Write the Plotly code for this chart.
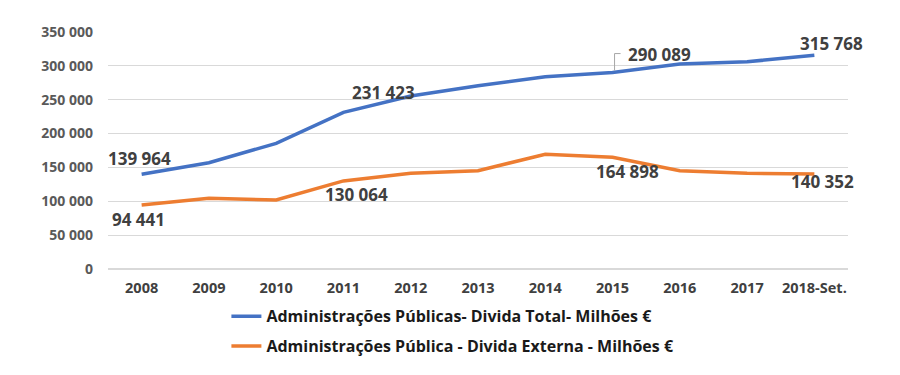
import plotly.graph_objects as go

years = ["2008", "2009", "2010", "2011", "2012", "2013", "2014", "2015", "2016", "2017", "2018-Set."]
divida_total = [139964, 157000, 185600, 231423, 255500, 270500, 284000, 290089, 302700, 306000, 315768]
divida_externa = [94441, 104400, 101900, 130064, 141300, 145200, 169400, 164898, 145200, 141300, 140352]
name_total = "Administrações Públicas- Divida Total- Milhões €"
name_externa = "Administrações Pública - Divida Externa - Milhões €"

BLUE = "#4472C4"
ORANGE = "#ED7D31"
FONT = "Open Sans"

fig = go.Figure()
fig.add_trace(go.Scatter(x=years, y=divida_total, mode="lines", name=name_total,
                         legendgroup="a", line=dict(color=BLUE, width=3.5)))
fig.add_trace(go.Scatter(x=years, y=divida_externa, mode="lines", name=name_externa,
                         legendgroup="b", line=dict(color=ORANGE, width=3.5)))

def fmt(v):
    return f"{v:,}".replace(",", " ")

# (series, index, xshift, yshift)
labels = [
    (divida_total, 0, -2, 16),
    (divida_externa, 0, -3, -14),
    (divida_total, 3, 40, 20),
    (divida_externa, 3, 13, -14),
    (divida_total, 7, 47, 18),
    (divida_externa, 7, 15, -14),
    (divida_total, 10, 17, 12),
    (divida_externa, 10, 8, -8),
]
for series, i, xs, ys in labels:
    fig.add_annotation(x=i, y=series[i], text=fmt(series[i]), showarrow=False,
                       xshift=xs, yshift=ys,
                       font=dict(family=FONT, size=17, color="#404040", weight="bold"))

# leader line for the 2015 total label (elbow)
fig.add_shape(type="path", xref="x", yref="y", xsizemode="pixel", ysizemode="pixel",
              xanchor=7, yanchor=divida_total[7], path="M 2,2 L 2,19 L 8,19",
              line=dict(color="#a6a6a6", width=1))

fig.update_layout(
    width=900, height=375,
    margin=dict(l=100, r=60, t=24, b=114, autoexpand=False),
    paper_bgcolor="white", plot_bgcolor="white",
    separators=", ",
    font=dict(family=FONT, color="#595959"),
    showlegend=True,
    legend=dict(orientation="v", x=0.16, xanchor="left", y=-0.128, yanchor="top",
                font=dict(family=FONT, size=16, color="#1a1a1a", weight="bold"),
                tracegroupgap=6, itemwidth=30),
)
fig.update_xaxes(type="category", range=[-0.5, len(years) - 0.5], showgrid=False,
                 showline=False, ticks="", ticklabelstandoff=8,
                 tickfont=dict(family=FONT, size=14.5, color="#404040", weight="bold"))
fig.update_yaxes(range=[0, 350000], dtick=50000, tickformat=",d", showgrid=True,
                 gridcolor="#d9d9d9", gridwidth=1, zeroline=True, zerolinecolor="#d9d9d9",
                 ticks="", ticklabelstandoff=14,
                 tickfont=dict(family=FONT, size=14, color="#595959", weight="bold"))

fig.write_html("out.html")
